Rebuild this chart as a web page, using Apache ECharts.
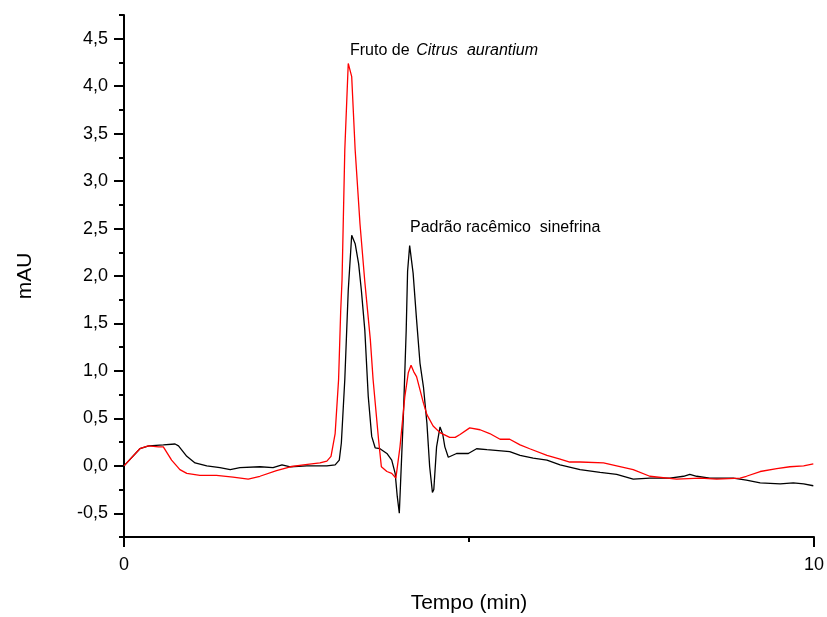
<!DOCTYPE html>
<html>
<head>
<meta charset="utf-8">
<script src="https://cdn.jsdelivr.net/npm/echarts@6/dist/echarts.min.js"></script>
<style>html,body{margin:0;padding:0;background:#fff}#c{width:827px;height:617px}</style>
</head>
<body>
<div id="c"></div>
<script>
// Red trace: Fruto de Citrus aurantium
const redTime = [0,0.23,0.35,0.50,0.57,0.69,0.81,0.91,1.10,1.34,1.58,1.80,1.97,2.21,2.41,2.60,2.84,2.94,3.00,3.06,3.11,3.14,3.16,3.20,3.25,3.27,3.30,3.35,3.42,3.49,3.57,3.61,3.69,3.73,3.81,3.88,3.94,4.00,4.07,4.12,4.16,4.20,4.24,4.29,4.34,4.39,4.48,4.58,4.72,4.80,4.87,5.01,5.16,5.30,5.45,5.59,5.74,5.88,6.13,6.32,6.46,6.61,6.95,7.14,7.38,7.62,8.01,8.35,8.59,8.93,9.02,9.22,9.46,9.65,9.85,9.99];
const redAbs = [0,0.18,0.21,0.20,0.20,0.06,-0.04,-0.08,-0.10,-0.10,-0.12,-0.14,-0.11,-0.05,-0.01,0.01,0.03,0.05,0.10,0.34,0.91,1.62,1.96,3.33,4.24,4.26,4.10,3.33,2.55,1.94,1.33,0.91,0.27,-0.01,-0.06,-0.08,-0.13,0.20,0.73,0.98,1.06,0.99,0.94,0.80,0.66,0.54,0.42,0.35,0.30,0.30,0.33,0.40,0.38,0.34,0.28,0.28,0.22,0.18,0.11,0.07,0.04,0.04,0.03,0.00,-0.04,-0.11,-0.14,-0.13,-0.14,-0.13,-0.11,-0.06,-0.03,-0.01,0.00,0.02];
// Black trace: Padrão racêmico sinefrina
const blackTime = [0,0.23,0.36,0.57,0.74,0.79,0.91,1.03,1.20,1.39,1.54,1.68,1.97,2.16,2.29,2.41,2.65,2.94,3.06,3.12,3.15,3.20,3.25,3.30,3.35,3.40,3.44,3.49,3.54,3.59,3.64,3.71,3.81,3.88,3.93,3.96,3.99,4.01,4.05,4.09,4.11,4.14,4.19,4.24,4.29,4.34,4.39,4.43,4.47,4.49,4.53,4.58,4.62,4.65,4.70,4.82,4.99,5.11,5.26,5.59,5.74,5.93,6.13,6.32,6.61,6.90,7.14,7.38,7.62,7.91,8.11,8.20,8.30,8.49,8.83,9.02,9.22,9.51,9.70,9.85,9.99];
const blackAbs = [0,0.18,0.21,0.22,0.23,0.21,0.10,0.03,0.00,-0.02,-0.04,-0.02,-0.01,-0.02,0.01,-0.01,0.00,0.00,0.01,0.06,0.24,0.91,1.85,2.43,2.34,2.13,1.85,1.43,0.73,0.31,0.19,0.18,0.13,0.06,-0.08,-0.32,-0.50,-0.15,0.55,1.43,2.05,2.32,2.03,1.54,1.08,0.83,0.45,-0.01,-0.28,-0.25,0.20,0.41,0.33,0.20,0.09,0.13,0.13,0.18,0.17,0.15,0.11,0.08,0.06,0.01,-0.04,-0.07,-0.09,-0.14,-0.13,-0.13,-0.11,-0.09,-0.11,-0.13,-0.13,-0.15,-0.18,-0.19,-0.18,-0.19,-0.21];

const xTicks = [0, 10];
const yMin = -0.75, yMax = 4.75;
const yMajorTicks = [-0.5, 0, 0.5, 1.0, 1.5, 2.0, 2.5, 3.0, 3.5, 4.0, 4.5];
const labelFruto = ['Fruto de', 'Citrus  aurantium'];
const labelPadrao = 'Padrão racêmico  sinefrina';

const FONT = 'Arial, "Liberation Sans", sans-serif';
const pair = (t, v) => t.map((x, i) => [x, v[i]]);

const chart = echarts.init(document.getElementById('c'), null, {renderer: 'canvas'});
chart.setOption({
  animation: false,
  backgroundColor: '#fff',
  grid: {left: 124, right: 13, top: 15, bottom: 80, containLabel: false, outerBoundsMode: 'none'},
  xAxis: {
    type: 'value', min: xTicks[0], max: xTicks[1], interval: 10,
    name: 'Tempo (min)', nameLocation: 'middle', nameGap: 56,
    nameTextStyle: {fontFamily: FONT, fontSize: 21, color: '#000'},
    axisLine: {show: true, onZero: false, lineStyle: {color: '#000', width: 2}},
    axisTick: {show: true, inside: false, length: 10, lineStyle: {color: '#000', width: 2}},
    minorTick: {show: true, splitNumber: 2, length: 5, lineStyle: {color: '#000', width: 2}},
    axisLabel: {fontFamily: FONT, fontSize: 18, color: '#000', margin: 19},
    splitLine: {show: false}
  },
  yAxis: [{
    type: 'value', min: yMin, max: yMax, interval: 0.25,
    name: 'mAU', nameLocation: 'middle', nameGap: 88, nameRotate: 90,
    nameTextStyle: {fontFamily: FONT, fontSize: 21, color: '#000'},
    axisLine: {show: true, onZero: false, lineStyle: {color: '#000', width: 2}},
    axisTick: {show: true, inside: false, length: 10, customValues: yMajorTicks, lineStyle: {color: '#000', width: 2}},
    axisLabel: {
      fontFamily: FONT, fontSize: 18, color: '#000', margin: 16, customValues: yMajorTicks,
      formatter: v => v.toFixed(1).replace('.', ',')
    },
    splitLine: {show: false}
  }, {
    type: 'value', min: yMin, max: yMax, interval: 0.25, position: 'left',
    axisLine: {show: false},
    axisTick: {show: true, inside: false, length: 5, lineStyle: {color: '#000', width: 2}},
    axisLabel: {show: false},
    splitLine: {show: false}
  }],
  series: [
    {type: 'line', name: 'Padrão', data: pair(blackTime, blackAbs), showSymbol: false, symbol: 'none',
     lineStyle: {color: '#000', width: 1.3}, z: 2},
    {type: 'line', name: 'Fruto', data: pair(redTime, redAbs), showSymbol: false, symbol: 'none',
     lineStyle: {color: '#ff0000', width: 1.3}, z: 3}
  ],
  graphic: [
    {type: 'text', left: 350, top: 43, style: {
      text: '{n|' + labelFruto[0] + '}  {i|' + labelFruto[1] + '}',
      rich: {n: {fontFamily: FONT, fontSize: 16, fill: '#000'}, i: {fontFamily: FONT, fontSize: 16, fontStyle: 'italic', fill: '#000'}}
    }},
    {type: 'text', left: 410, top: 220, style: {
      text: labelPadrao, font: '16px ' + FONT, fill: '#000'
    }}
  ]
});
</script>
</body>
</html>
